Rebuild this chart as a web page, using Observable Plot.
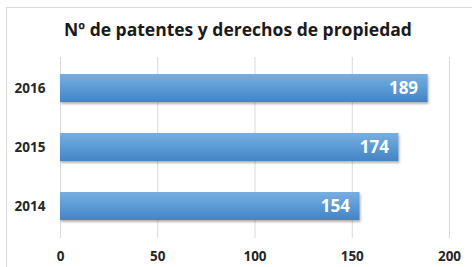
<!DOCTYPE html>
<html><head><meta charset="utf-8">
<script src="https://cdn.jsdelivr.net/npm/d3@7"></script>
<script src="https://cdn.jsdelivr.net/npm/@observablehq/plot@0.6"></script>
<style>
body{margin:0;background:#fff;}
#wrap{position:relative;width:472px;height:267px;overflow:hidden;font-family:"Open Sans",sans-serif;}
#frame{position:absolute;left:6px;top:7px;width:480px;height:290px;border:1px solid #d9d9d9;}
#chart{position:absolute;left:0;top:0;}
#title{position:absolute;left:0;width:476px;top:18px;text-align:center;font-weight:700;font-size:17.5px;line-height:22px;color:#1a1a1a;}
</style></head><body>
<div id="wrap"><div id="frame"></div><div id="chart"></div><div id="title">Nº de patentes y derechos de propiedad</div></div>
<script>
const years = ["2016", "2015", "2014"];
const values = [189, 174, 154];
const xTicks = [0, 50, 100, 150, 200];
const data = years.map((y, i) => ({year: y, value: values[i]}));

const plot = Plot.plot({
  width: 472, height: 267,
  marginLeft: 60, marginRight: 23, marginTop: 57, marginBottom: 29,
  style: {background: "transparent", fontFamily: "Open Sans", fontWeight: 700, fontSize: "13.5px", color: "#262626"},
  x: {domain: [0, 200], ticks: xTicks, tickSize: 0, tickPadding: 13, label: null},
  y: {domain: years, paddingInner: 0.517, paddingOuter: 0.267, tickSize: 0, tickPadding: 15, label: null},
  marks: [
    Plot.ruleX(xTicks, {x: d => d, stroke: "#d9d9d9", strokeWidth: 1}),
    Plot.barX(data, {x: "value", y: "year", fill: "url(#barGrad)"}),
    Plot.text(data, {x: "value", y: "year", text: d => String(d.value), textAnchor: "end", dx: -10, fill: "white", fontSize: 17, fontWeight: 700})
  ]
});

const ns = "http://www.w3.org/2000/svg";
const defs = document.createElementNS(ns, "defs");
defs.innerHTML = `
<linearGradient id="barGrad" x1="0" y1="0" x2="0" y2="1">
  <stop offset="0" stop-color="#78aee0"/>
  <stop offset="0.5" stop-color="#5b9bd5"/>
  <stop offset="1" stop-color="#4583c5"/>
</linearGradient>
<filter id="shadow" x="-5%" y="-20%" width="110%" height="160%">
  <feDropShadow dx="1" dy="2" stdDeviation="1.2" flood-color="#000" flood-opacity="0.3"/>
</filter>`;
plot.insertBefore(defs, plot.firstChild);
d3.select(plot).selectAll("rect").filter(function(){ return this.parentNode.getAttribute("aria-label") === "bar"; }).attr("fill", "url(#barGrad)").attr("filter", "url(#shadow)");
document.getElementById("chart").appendChild(plot);
</script>
</body></html>
